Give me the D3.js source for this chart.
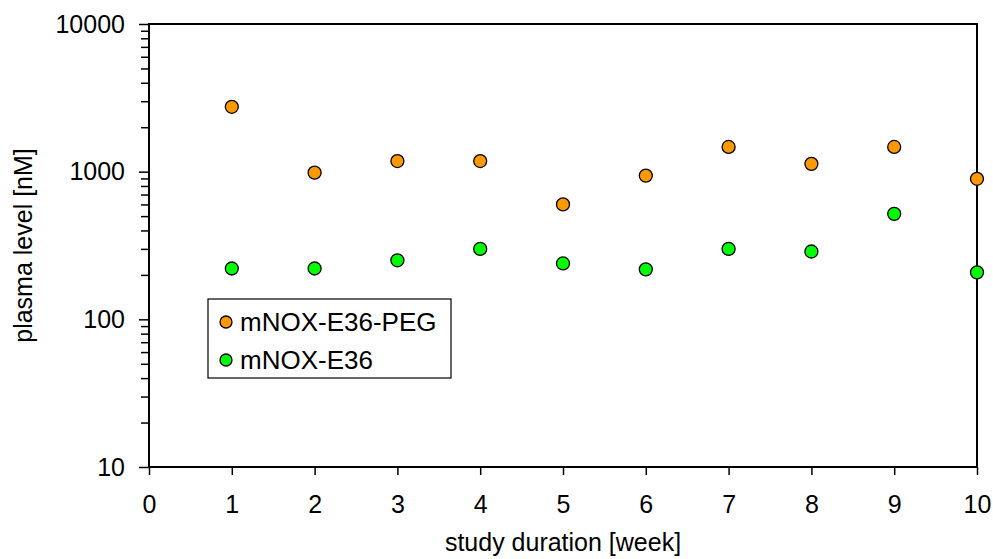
<!DOCTYPE html>
<html>
<head>
<meta charset="utf-8">
<script src="https://cdn.jsdelivr.net/npm/d3@7"></script>
<style>
  body { margin: 0; background: #fff; }
  text { font-family: "Liberation Sans", Arial, sans-serif; fill: #000; }
</style>
</head>
<body>
<svg id="chart"></svg>
<script>
// week numbers
var weeks = [1, 2, 3, 4, 5, 6, 7, 8, 9, 10];
// plasma levels [nM]
var pegValues = [2750, 985, 1180, 1180, 600, 940, 1470, 1130, 1470, 895];
var e36Values = [221, 221, 251, 300, 239, 218, 300, 288, 518, 208];

var seriesNames = ["mNOX-E36-PEG", "mNOX-E36"];
var seriesColors = ["#ff9900", "#00ff00"];

var xTicks = [0, 1, 2, 3, 4, 5, 6, 7, 8, 9, 10];
var yTicks = [10, 100, 1000, 10000];

var width = 993, height = 559;
var margin = { top: 24, right: 16, bottom: 92, left: 149 };
var fs = "25px";

var svg = d3.select("#chart")
    .attr("width", width)
    .attr("height", height);

var x = d3.scaleLinear()
    .domain([0, 10])
    .range([margin.left, width - margin.right]);

var y = d3.scaleLog()
    .domain([10, 10000])
    .range([height - margin.bottom, margin.top]);

// minor ticks on y (2..9 in every decade)
var minor = [];
yTicks.slice(0, -1).forEach(function (d) {
    for (var k = 2; k <= 9; k++) minor.push(d * k);
});

svg.append("g")
    .attr("transform", "translate(" + margin.left + ",0)")
    .call(d3.axisLeft(y).tickValues(minor).tickSize(8).tickFormat(""))
    .call(function (g) { g.select(".domain").remove(); })
    .selectAll("line").attr("stroke-width", 1.5);

var yAxis = svg.append("g")
    .attr("transform", "translate(" + margin.left + ",0)")
    .call(d3.axisLeft(y).tickValues(yTicks).tickSize(10).tickPadding(14)
        .tickFormat(d3.format("d")));
yAxis.select(".domain").remove();
yAxis.selectAll("line").attr("stroke-width", 1.5);
yAxis.selectAll("text").style("font-size", fs)
    .style("font-family", "Liberation Sans, Arial, sans-serif");

var xAxis = svg.append("g")
    .attr("transform", "translate(0," + (height - margin.bottom) + ")")
    .call(d3.axisBottom(x).tickValues(xTicks).tickSize(8).tickPadding(20));
xAxis.select(".domain").remove();
xAxis.selectAll("line").attr("stroke-width", 1.5);
xAxis.selectAll("text").style("font-size", fs)
    .style("font-family", "Liberation Sans, Arial, sans-serif");

// frame
svg.append("rect")
    .attr("x", margin.left)
    .attr("y", margin.top)
    .attr("width", width - margin.right - margin.left)
    .attr("height", height - margin.bottom - margin.top)
    .attr("fill", "none")
    .attr("stroke", "#000")
    .attr("stroke-width", 2);

// axis titles
svg.append("text")
    .attr("x", (margin.left + width - margin.right) / 2)
    .attr("y", 551)
    .attr("text-anchor", "middle")
    .style("font-size", fs)
    .text("study duration [week]");

svg.append("text")
    .attr("transform", "translate(32," + ((margin.top + height - margin.bottom) / 2) + ") rotate(-90)")
    .attr("text-anchor", "middle")
    .style("font-size", fs)
    .text("plasma level [nM]");

// points
[pegValues, e36Values].forEach(function (vals, i) {
    svg.append("g")
        .selectAll("circle")
        .data(weeks.map(function (w, j) { return { w: w, v: vals[j] }; }))
        .enter().append("circle")
        .attr("cx", function (d) { return x(d.w); })
        .attr("cy", function (d) { return y(d.v); })
        .attr("r", 6.5)
        .attr("fill", seriesColors[i])
        .attr("stroke", "#000")
        .attr("stroke-width", 1.3);
});

// legend
var legend = svg.append("g").attr("transform", "translate(208,299)");
legend.append("rect")
    .attr("width", 243)
    .attr("height", 79)
    .attr("fill", "#fff")
    .attr("stroke", "#000")
    .attr("stroke-width", 1.2);

var item = legend.selectAll(".item")
    .data(seriesNames)
    .enter().append("g")
    .attr("class", "item")
    .attr("transform", function (d, i) { return "translate(0," + (23 + i * 38) + ")"; });
item.append("circle")
    .attr("cx", 18)
    .attr("r", 6)
    .attr("fill", function (d, i) { return seriesColors[i]; })
    .attr("stroke", "#000")
    .attr("stroke-width", 1.3);
item.append("text")
    .attr("x", 32)
    .attr("dy", "0.35em")
    .style("font-size", "26px")
    .text(function (d) { return d; });
</script>
</body>
</html>
